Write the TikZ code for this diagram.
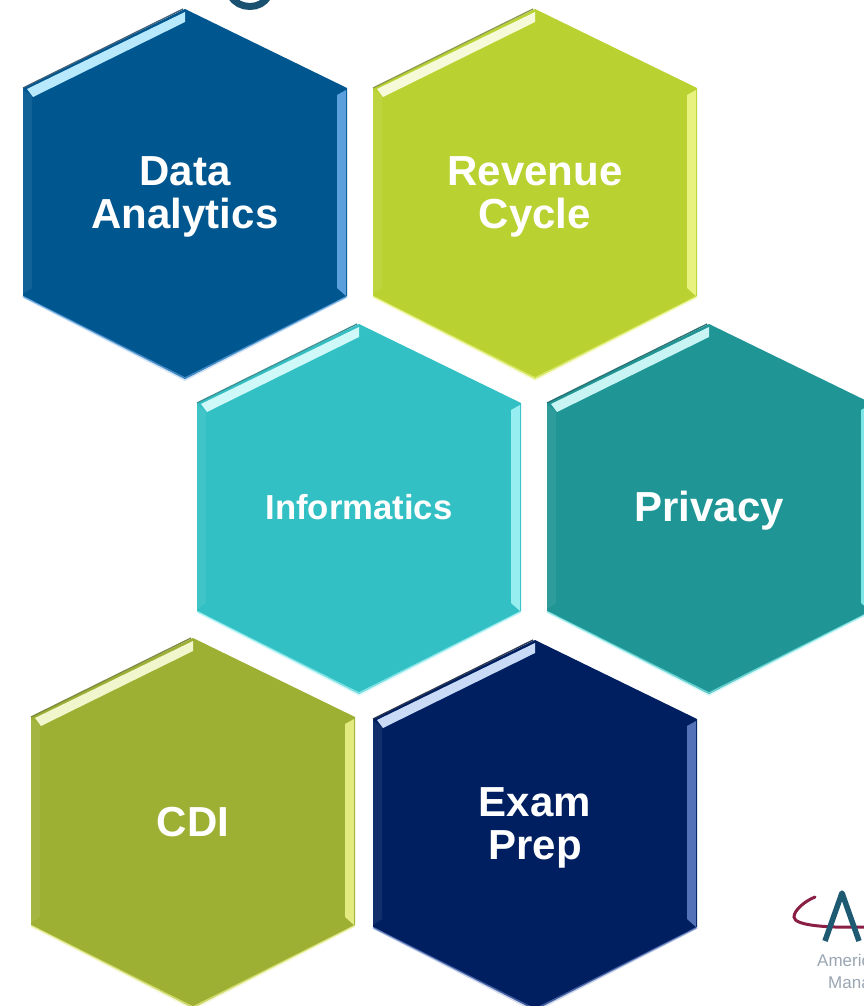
\documentclass[tikz,border=0pt]{standalone}
\usepackage{fontspec}
\setmainfont{Liberation Sans}
\definecolor{logogray}{HTML}{9AA6B2}
\definecolor{logoteal}{HTML}{1E5A72}
\definecolor{logored}{HTML}{8A1F45}
\definecolor{titleink}{HTML}{1A5070}
\definecolor{hexA}{HTML}{00568F}\definecolor{hexAt}{HTML}{B8E8FB}\definecolor{hexAr}{HTML}{5B9FDC}\definecolor{hexAe}{HTML}{3F5F78}
\definecolor{hexB}{HTML}{B9D232}\definecolor{hexBt}{HTML}{F6FAD8}\definecolor{hexBr}{HTML}{E8F27E}\definecolor{hexBe}{HTML}{8A9A50}
\definecolor{hexC}{HTML}{32C0C4}\definecolor{hexCt}{HTML}{CFF8F8}\definecolor{hexCr}{HTML}{96EEF0}\definecolor{hexCe}{HTML}{3E8F90}
\definecolor{hexD}{HTML}{1F9595}\definecolor{hexDt}{HTML}{C8F4F4}\definecolor{hexDr}{HTML}{7FE6E6}\definecolor{hexDe}{HTML}{2A7070}
\definecolor{hexE}{HTML}{9DB033}\definecolor{hexEt}{HTML}{F2F6CC}\definecolor{hexEr}{HTML}{E2EA80}\definecolor{hexEe}{HTML}{7A8A40}
\definecolor{hexF}{HTML}{001F60}\definecolor{hexFt}{HTML}{C8DAF6}\definecolor{hexFr}{HTML}{5472B8}\definecolor{hexFe}{HTML}{2A3550}
\tikzset{
  hexlabel/.style={text=white,font=\bfseries\fontsize{42}{43}\selectfont,align=center,inner sep=0pt},
  twoline/.style={hexlabel,yshift=-3.5pt},
  descline/.style={hexlabel,yshift=-3pt},
  smalllabel/.style={hexlabel,font=\bfseries\fontsize{34.7}{36}\selectfont,yshift=1pt},
  logotext/.style={text=logogray,font=\fontsize{17}{18}\selectfont,inner sep=0pt,anchor=base west}
}
% name, cx, cy, fill, top highlight, right strip, edge, text style, text
\newcommand{\hexcell}[9]{%
  \begin{scope}[shift={(#2,#3)}]
    \draw[#6,line width=3.5pt,opacity=.3] (-162,102) -- (0,185) -- (162,102);
    \fill[#4] (0,-185) -- (162,-106) -- (162,102) -- (0,185) -- (-162,102) -- (-162,-106) -- cycle;
    \draw[#6,line width=1.4pt,opacity=.75] (-161,103) -- (0,184) -- (161,103);
    \fill[#4!93!white] (-162,-104) -- (-153,-98) -- (-153,94) -- (-162,100) -- cycle;
    \fill[#6] (161,-104) -- (161,102) -- (152,94) -- (152,-99) -- cycle;
    \draw[#7,line width=1.3pt] (-162,-106) -- (-2,-185);
    \fill[#5] (-158,-105) -- (0,-182) -- (0,-172) -- (-152,-97) -- cycle;
    \node[#8] (#1) at (0,-1) {#9};
  \end{scope}%
}
\begin{document}
\begin{tikzpicture}[x=1pt,y=-1pt]
  \useasboundingbox (0,0) rectangle (864,1006);
  \clip (0,0) rectangle (864,1006);
  \fill[white] (0,0) rectangle (864,1006);
  % cut-off title descender
  \draw[titleink,line width=7pt] (231,-4) .. controls (238,10) and (262,10) .. (268,-4);
  \hexcell{analytics}{185}{194}{hexA}{hexAt}{hexAr}{hexAe}{twoline}{Data\\Analytics}
  \hexcell{revenue}{535}{194}{hexB}{hexBt}{hexBr}{hexBe}{twoline}{Revenue\\Cycle}
  \hexcell{informatics}{359}{509}{hexC}{hexCt}{hexCr}{hexCe}{smalllabel}{Informatics}
  \hexcell{privacy}{709}{509}{hexD}{hexDt}{hexDr}{hexDe}{descline}{Privacy}
  \hexcell{cdi}{193}{823}{hexE}{hexEt}{hexEr}{hexEe}{hexlabel}{CDI}
  \hexcell{exam}{535}{825}{hexF}{hexFt}{hexFr}{hexFe}{twoline}{Exam\\Prep}
  % partial logo at the page edge
  \draw[logored,line width=3pt,line cap=round] (866,927) .. controls (830,928) and (794,926) .. (794,917) .. controls (794,910) and (805,901) .. (815,897);
  \draw[logoteal,line width=5.5pt,line join=round] (825,941) -- (842,893) -- (859,941);
  \node[logotext] (logoa) at (817,966) {Americ};
  \node[logotext] (logob) at (828,988) {Mana};
\end{tikzpicture}
\end{document}
